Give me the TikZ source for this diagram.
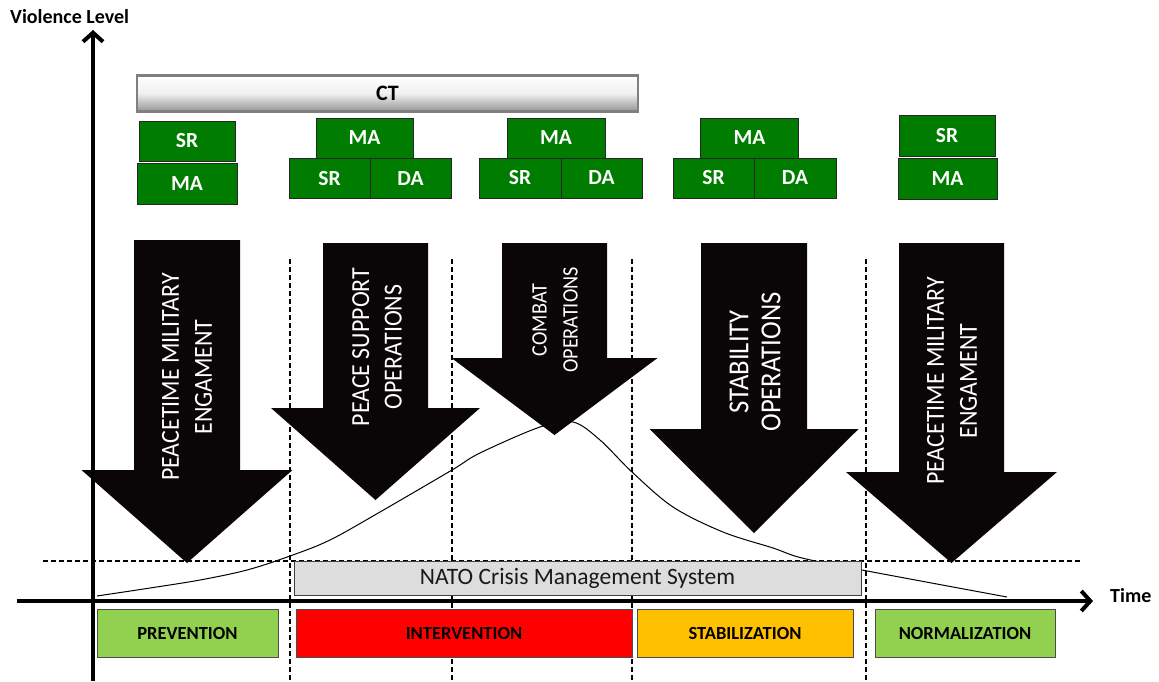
\documentclass[tikz,border=0pt]{standalone}
\usepackage{fontspec}
\setmainfont{Carlito}
\newfontfamily\arrowfont[FakeStretch=0.92]{Carlito}
\usetikzlibrary{arrows.meta}
\definecolor{opgreen}{RGB}{0,125,0}
\definecolor{lightgreen}{HTML}{92D050}
\definecolor{phasered}{HTML}{FF0000}
\definecolor{phaseorange}{HTML}{FFC000}
\definecolor{natogray}{HTML}{DDDDDD}
\definecolor{arrowblack}{HTML}{0A0507}

% Block arrow pointing down: centre x, top y, body half width, head y, head half width, tip y
\newcommand\downblock[6]{%
  \fill[arrowblack] ({#1-#3},#2) -- ({#1+#3},#2) -- ({#1+#3},#4) -- ({#1+#5},#4)
    -- (#1,#6) -- ({#1-#5},#4) -- ({#1-#3},#4) -- cycle;}

\begin{document}
\begin{tikzpicture}[x=1pt,y=-1pt,
  taskbox/.style={draw=black!85, line width=0.9pt, fill=opgreen, text=white,
    font=\bfseries\fontsize{21.5}{24}\selectfont, inner sep=0pt, outer sep=0pt,
    minimum height=40pt},
  phasebox/.style={draw=black!70, line width=0.9pt, inner sep=0pt, outer sep=0pt,
    minimum height=48pt, font=\bfseries\fontsize{18.5}{20}\selectfont, text=black},
  arrowtext/.style={rotate=90, text=white, align=center, inner sep=0pt},
  axisline/.style={line width=4pt, -{Straight Barb[length=9pt,width=20pt]}},
  guide/.style={line width=1.4pt, dash pattern=on 5pt off 3pt},
  axislabel/.style={font=\bfseries\fontsize{20}{24}\selectfont, inner sep=0pt, anchor=base west}
]
\useasboundingbox (0,0) rectangle (1159,681);

% phase separators
\coordinate (s1t) at (290,259); \coordinate (s1b) at (290,681);
\coordinate (s2t) at (452,259); \coordinate (s2b) at (452,681);
\coordinate (s3t) at (632,259); \coordinate (s3b) at (632,681);
\coordinate (s4t) at (866,259); \coordinate (s4b) at (866,681);
\coordinate (thl) at (43,561);  \coordinate (thr) at (1080,561);
\draw[guide] (s1t) -- (s1b);
\draw[guide] (s2t) -- (s2b);
\draw[guide] (s3t) -- (s3b);
\draw[guide] (s4t) -- (s4b);
\draw[guide] (thl) -- (thr);

% violence level curve
\draw[line width=1pt] plot[smooth, tension=0.55] coordinates {
  (97,596) (150,588) (200,580) (247,570) (290,556) (330,540) (380,512)
  (452,470) (480,453) (540,427) (573,422) (600,440) (632,472) (673,507)
  (723,532) (773,548) (802,558) (862,570) (1007,597)};

% operation arrows
\downblock{187}{240}{53}{470}{105.5}{563}
\downblock{375.5}{243}{52.5}{408}{104.5}{500}
\downblock{554.5}{243}{52.5}{358}{103}{435}
\downblock{754}{243}{53}{429}{104.5}{533}
\downblock{951.5}{243}{52.5}{472}{105.5}{563}

\node[arrowtext, font=\arrowfont\fontsize{26}{33}\selectfont] (op1) at (187,377)
  {PEACETIME MILITARY\\ENGAMENT};
\node[arrowtext, font=\arrowfont\fontsize{26}{32.5}\selectfont] (op2) at (377,347)
  {PEACE SUPPORT\\OPERATIONS};
\node[arrowtext, font=\arrowfont\fontsize{22}{31}\selectfont] (op3) at (555,320)
  {COMBAT\\OPERATIONS};
\node[arrowtext, font=\arrowfont\fontsize{29}{32}\selectfont] (op4) at (755,362)
  {STABILITY\\OPERATIONS};
\node[arrowtext, font=\arrowfont\fontsize{26}{33}\selectfont] (op5) at (952,381)
  {PEACETIME MILITARY\\ENGAMENT};

% crisis management band
\node[draw=black!75, line width=0.9pt, fill=natogray, minimum width=567pt, minimum height=34pt,
  inner sep=0pt, font=\fontsize{23.5}{26}\selectfont, text=black!90] (nato) at (577.5,578)
  {NATO Crisis Management System};

% axes
\coordinate (vb) at (93,681); \coordinate (vt) at (93,30);
\coordinate (hl) at (17,601); \coordinate (hr) at (1093,601);
\draw[axisline] (vb) -- (vt);
\draw[axisline] (hl) -- (hr);
\node[axislabel] (ylab) at (10,23) {Violence Level};
\node[axislabel] (xlab) at (1110,602) {Time};

% counter-terrorism bar
\node[draw=black!50, line width=2.5pt, top color=white, bottom color=black!42, middle color=black!6,
  minimum width=501pt, minimum height=36pt, inner sep=0pt,
  font=\bfseries\fontsize{22}{24}\selectfont] (ct) at (387.5,93.5) {CT};

% task blocks
\node[taskbox, minimum width=96pt] (sr1) at (187,141) {SR};
\node[taskbox, minimum width=100pt, minimum height=41pt] (ma1) at (187,183.5) {MA};

\node[taskbox, minimum width=97pt] (ma2) at (364.5,138) {MA};
\node[taskbox, minimum width=81pt] (sr2) at (329.5,178.5) {SR};
\node[taskbox, minimum width=81pt] (da2) at (410.5,178.5) {DA};

\node[taskbox, minimum width=98pt] (ma3) at (556,138) {MA};
\node[taskbox, minimum width=82pt] (sr3) at (520,178) {SR};
\node[taskbox, minimum width=81pt] (da3) at (601.5,178) {DA};

\node[taskbox, minimum width=98pt] (ma4) at (749.5,138) {MA};
\node[taskbox, minimum width=81pt] (sr4) at (713.5,178) {SR};
\node[taskbox, minimum width=82pt] (da4) at (795,178) {DA};

\node[taskbox, minimum width=96pt, minimum height=41pt] (sr5) at (947,135.5) {SR};
\node[taskbox, minimum width=99pt, minimum height=41pt] (ma5) at (947.5,178.5) {MA};

% phases
\node[phasebox, fill=lightgreen, minimum width=181pt] (prev) at (187.5,633) {PREVENTION};
\node[phasebox, fill=phasered, minimum width=336pt] (inter) at (464,633) {INTERVENTION};
\node[phasebox, fill=phaseorange, minimum width=216pt] (stab) at (745,633) {STABILIZATION};
\node[phasebox, fill=lightgreen, minimum width=180pt] (norm) at (965,633) {NORMALIZATION};
\end{tikzpicture}
\end{document}
